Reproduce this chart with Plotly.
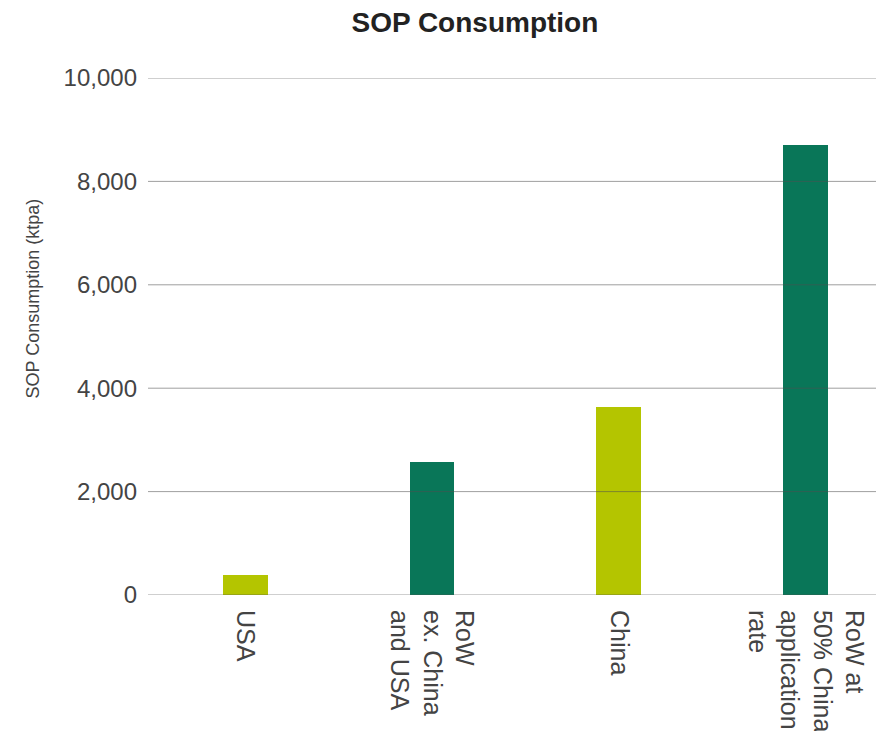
import plotly.graph_objects as go

categories = ["USA", "RoW<br>ex. China<br>and USA", "China", "RoW at<br>50% China<br>application<br>rate"]
values = [380, 2580, 3630, 8700]
colors = ["#b4c500", "#097658", "#b4c500", "#097658"]
tick_vals = [0, 2000, 4000, 6000, 8000, 10000]
tick_text = ["0", "2,000", "4,000", "6,000", "8,000", "10,000"]

FONT = "Liberation Sans, Arial, sans-serif"

fig = go.Figure()
fig.add_trace(go.Bar(
    x=categories, y=values, marker=dict(color=colors, line=dict(width=0)),
    width=0.24,
))

for v in tick_vals:
    fig.add_shape(type="line", xref="paper", yref="y", x0=0, x1=1, y0=v, y1=v,
                  line=dict(color="rgba(80,80,80,0.55)", width=1), layer="above")

fig.add_annotation(text="SOP Consumption (ktpa)", xref="paper", yref="paper",
                   x=-0.156, y=0.574, xanchor="center", yanchor="middle", textangle=-90,
                   showarrow=False, font=dict(family=FONT, size=18, color="#444"))

fig.update_layout(
    width=876, height=723,
    margin=dict(l=140, r=0, t=70, b=136),
    paper_bgcolor="white", plot_bgcolor="white",
    font=dict(family=FONT, color="#444"),
    title=dict(text="<b>SOP Consumption</b>", x=0.533, xanchor="center", y=0.981, yanchor="middle",
               font=dict(size=28, color="#222")),
    showlegend=False,
    bargap=0,
)
fig.update_xaxes(range=[-0.52, 3.42], tickangle=90, tickfont=dict(size=25, color="#444"),
                 showgrid=False, showline=False, ticks="", ticklen=0, ticklabelstandoff=14,
                 automargin=False)
fig.update_yaxes(range=[0, 10000], tickvals=tick_vals, ticktext=tick_text, showgrid=False,
                 zeroline=False, tickfont=dict(size=24, color="#444"), ticks="", ticklabelstandoff=10,
                 automargin=False)

fig.write_html("out.html")
